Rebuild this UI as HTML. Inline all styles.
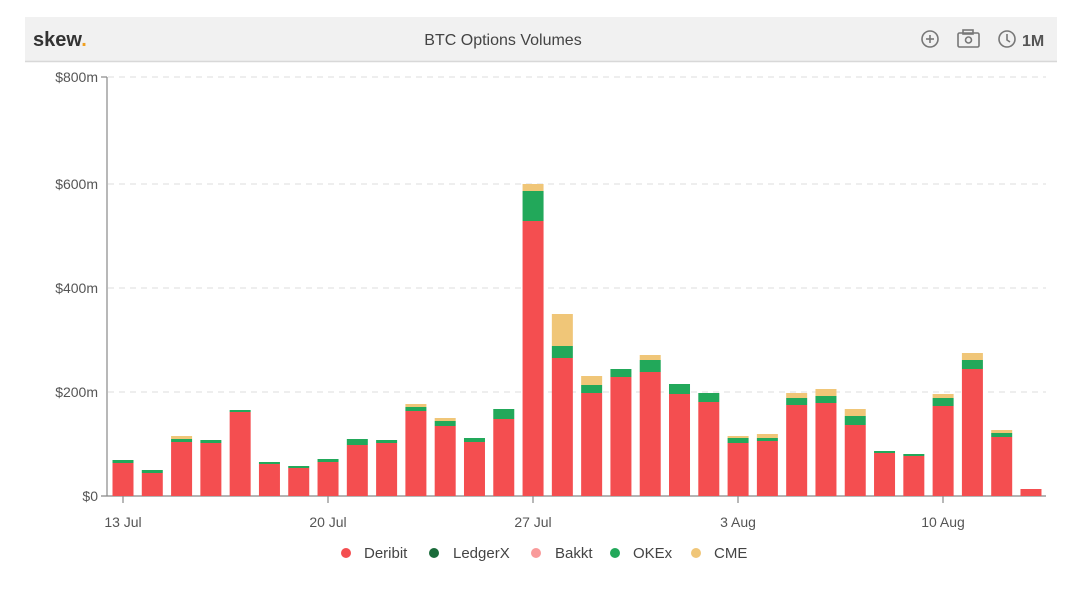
<!DOCTYPE html><html><head><style>
body{margin:0;background:#fff;font-family:"Liberation Sans",sans-serif;}
</style></head><body>
<svg width="1080" height="585" xmlns="http://www.w3.org/2000/svg" font-family="Liberation Sans, sans-serif">
<rect x="25" y="17" width="1032" height="44" fill="#f1f1f1"/>
<line x1="25" y1="61.5" x2="1057" y2="61.5" stroke="#d8d8d8" stroke-width="1.5"/>
<text x="33" y="46" font-size="20" font-weight="bold" fill="#333">skew<tspan fill="#f0a020">.</tspan></text>
<text x="503" y="45" font-size="16" fill="#444" text-anchor="middle">BTC Options Volumes</text>
<g stroke="#777" stroke-width="1.6" fill="none">
<circle cx="930" cy="39" r="8"/><line x1="926" y1="39" x2="934" y2="39"/><line x1="930" y1="35" x2="930" y2="43"/>
<rect x="958" y="33" width="21" height="14" rx="1.5"/><rect x="963" y="30" width="10" height="4"/><circle cx="968.5" cy="40" r="3"/>
<circle cx="1007" cy="39" r="8"/><polyline points="1007,34 1007,40 1010,42"/>
</g>
<text x="1022" y="46" font-size="16" font-weight="bold" fill="#555">1M</text>
<g stroke="#ddd" stroke-dasharray="6,5" stroke-width="1">
<line x1="108" y1="77" x2="1046" y2="77"/><line x1="108" y1="184" x2="1046" y2="184"/>
<line x1="108" y1="288" x2="1046" y2="288"/><line x1="108" y1="392" x2="1046" y2="392"/>
</g>
<g font-size="14" fill="#555" text-anchor="end">
<text x="98" y="82">$800m</text><text x="98" y="189">$600m</text><text x="98" y="293">$400m</text><text x="98" y="397">$200m</text><text x="98" y="501">$0</text>
</g>
<g stroke="#888" stroke-width="1.2">
<line x1="107" y1="77" x2="107" y2="496"/><line x1="101" y1="77" x2="107" y2="77"/>
<line x1="101" y1="496" x2="1046" y2="496"/>
<line x1="123" y1="496" x2="123" y2="503"/><line x1="328" y1="496" x2="328" y2="503"/><line x1="533" y1="496" x2="533" y2="503"/><line x1="738" y1="496" x2="738" y2="503"/><line x1="943" y1="496" x2="943" y2="503"/>
</g>
<g font-size="14" fill="#555" text-anchor="middle">
<text x="123" y="527">13 Jul</text><text x="328" y="527">20 Jul</text><text x="533" y="527">27 Jul</text><text x="738" y="527">3 Aug</text><text x="943" y="527">10 Aug</text>
</g>
<g id="bars"></g>
<g font-size="15" fill="#444">
<circle cx="346" cy="553" r="5" fill="#f44e50"/><text x="364" y="558">Deribit</text>
<circle cx="434" cy="553" r="5" fill="#1a6b3a"/><text x="453" y="558">LedgerX</text>
<circle cx="536" cy="553" r="5" fill="#f99a9a"/><text x="555" y="558">Bakkt</text>
<circle cx="615" cy="553" r="5" fill="#22a85a"/><text x="633" y="558">OKEx</text>
<circle cx="696" cy="553" r="5" fill="#f0c678"/><text x="714" y="558">CME</text>
</g>
</svg>
<script>
var d=[[463,460,460],[473,470,470],[442,439,436],[443,440,440],[412,410,410],[464,462,462],[468,466,466],[462,459,459],[445,439,439],[443,440,440],[411,407,404],[426,421,418],[442,438,438],[419,409,409],[221,191,184],[358,346,314],[393,385,376],[377,369,369],[372,360,355],[394,384,384],[402,393,393],[443,438,436],[441,438,434],[405,398,393],[403,396,389],[425,416,409],[453,451,451],[456,454,454],[406,398,394],[369,360,353],[437,433,430],[489,489,489]];
var g=document.getElementById('bars'),s='';
d.forEach(function(v,i){var x=123+i*29.29-10.5,w=21;
s+='<rect x="'+x+'" y="'+v[0]+'" width="'+w+'" height="'+(496-v[0])+'" fill="#f44e50"/>';
if(v[0]-v[1]>0)s+='<rect x="'+x+'" y="'+v[1]+'" width="'+w+'" height="'+(v[0]-v[1])+'" fill="#22a85a"/>';
if(v[1]-v[2]>0)s+='<rect x="'+x+'" y="'+v[2]+'" width="'+w+'" height="'+(v[1]-v[2])+'" fill="#f0c678"/>';});
g.innerHTML=s;
</script>
</body></html>
